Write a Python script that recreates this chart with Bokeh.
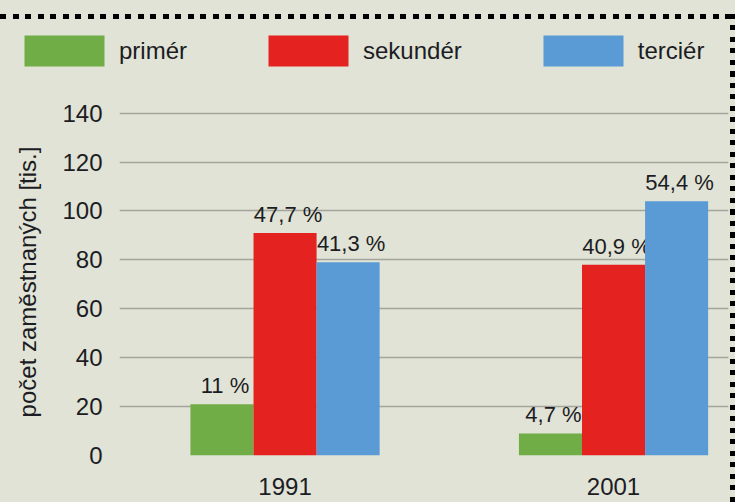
from bokeh.plotting import figure
from bokeh.models import (Range1d, FixedTicker, Legend, LegendItem,
                          ColumnDataSource, GlobalInlineStyleSheet)
from bokeh.embed import file_html
from bokeh.resources import INLINE
from bokeh.core.properties import value

# ---- data ----
years = ["1991", "2001"]
sectors = ["primér", "sekundér", "terciér"]
primer = [21, 9]
sekunder = [91, 78]
tercier = [79, 104]
primer_pct = ["11 %", "4,7 %"]
sekunder_pct = ["47,7 %", "40,9 %"]
tercier_pct = ["41,3 %", "54,4 %"]
y_ticks = [0, 20, 40, 60, 80, 100, 120, 140]
y_label = "počet zaměstnaných [tis.]"

colors = ["#70ad47", "#e42320", "#5b9bd5"]
BG = "#e0e3d5"
FONT = "Liberation Sans"
TXT = "#1c1c24"

css = """
body{background:%s;margin:0;}
body::before{content:"";position:fixed;left:0;top:14px;width:732px;height:5px;z-index:50;
  pointer-events:none;background:repeating-linear-gradient(to right,#000 0 6px,transparent 6px 12.5px);}
body::after{content:"";position:fixed;left:730px;top:14px;width:5px;height:488px;z-index:50;
  pointer-events:none;background:repeating-linear-gradient(to bottom,#000 0 5px,transparent 5px 11.5px);}
""" % BG

TOP_H = 80

# legend strip (bars of the same sources, kept out of its view)
top = figure(width=735, height=TOP_H, output_backend="svg", toolbar_location=None,
             x_range=Range1d(-101, -100), y_range=Range1d(-101, -100),
             min_border_left=0, min_border_right=0, min_border_top=0, min_border_bottom=0,
             background_fill_color=BG, border_fill_color=BG, outline_line_color=None)
top.axis.visible = False
top.grid.visible = False
top.stylesheets = [GlobalInlineStyleSheet(css=css)]

p = figure(width=735, height=502 - TOP_H, output_backend="svg", toolbar_location=None,
           x_range=Range1d(-0.504, 1.35), y_range=Range1d(0, 141.9),
           min_border_left=119, min_border_right=7, min_border_top=108 - TOP_H,
           min_border_bottom=47,
           background_fill_color=BG, border_fill_color=BG, outline_line_color=None)

idx = list(range(len(years)))
w = 0.192
series = [primer, sekunder, tercier]
pcts = [primer_pct, sekunder_pct, tercier_pct]
legend_renderers = []
for k, (vals, pct, col) in enumerate(zip(series, pcts, colors)):
    xs = [i + (k - 1) * w for i in idx]
    src = ColumnDataSource(dict(x=xs, top=vals, label=pct))
    p.vbar(x="x", top="top", bottom=0, width=w, source=src,
           fill_color=col, line_color=None)
    p.text(x="x", y="top", text="label", source=src, text_align="center",
           text_baseline="bottom", x_offset=3, y_offset=-6,
           text_font=value(FONT), text_font_size="22px", text_color=TXT)
    lr = top.vbar(x="x", top="top", bottom=0, width=w, source=src,
                  fill_color=col, line_color=None)
    legend_renderers.append(lr)

legend = Legend(items=[LegendItem(label=s, renderers=[r]) for s, r in zip(sectors, legend_renderers)],
                orientation="horizontal", location=(14, TOP_H - 70),
                glyph_width=100, glyph_height=39, label_standoff=5, spacing=71,
                padding=0, margin=0, border_line_color=None, background_fill_alpha=0,
                label_text_font=FONT, label_text_font_size="24px", label_text_color=TXT)
top.add_layout(legend)

p.xaxis.ticker = FixedTicker(ticks=idx)
p.xaxis.major_label_overrides = {i: y for i, y in zip(idx, years)}
p.yaxis.ticker = FixedTicker(ticks=y_ticks)
p.ygrid.ticker = FixedTicker(ticks=y_ticks)
p.xgrid.visible = False
p.ygrid.grid_line_color = "#a4a59d"
p.ygrid.grid_line_width = 1.5

for ax in (p.xaxis, p.yaxis):
    ax.axis_line_color = None
    ax.major_tick_line_color = None
    ax.minor_tick_line_color = None
    ax.major_tick_out = 0
    ax.major_tick_in = 0
    ax.major_label_text_font = FONT
    ax.major_label_text_font_size = "24px"
    ax.major_label_text_color = TXT
p.yaxis.major_label_standoff = 17
p.xaxis.major_label_standoff = 22
p.yaxis.axis_label = y_label
p.yaxis.axis_label_text_font = FONT
p.yaxis.axis_label_text_font_style = "normal"
p.yaxis.axis_label_text_font_size = "24px"
p.yaxis.axis_label_text_color = TXT
p.yaxis.axis_label_standoff = 18

open("out.html", "w").write(file_html([top, p], INLINE))
